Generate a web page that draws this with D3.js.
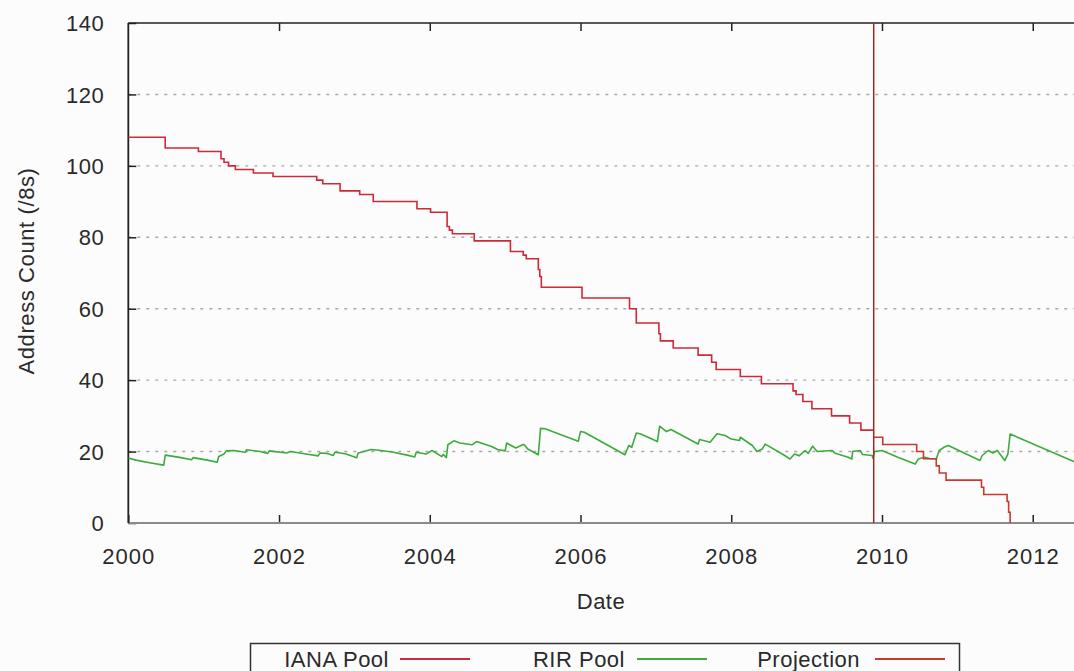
<!DOCTYPE html>
<html>
<head>
<meta charset="utf-8">
<script src="https://cdn.jsdelivr.net/npm/d3@7"></script>
<style>
  html, body { margin: 0; padding: 0; background: #fcfcfc; }
  svg { display: block; }
  text { font-family: "Liberation Sans", Arial, sans-serif; fill: #2a2a2a; }
</style>
</head>
<body>
<svg id="chart" width="1074" height="671"></svg>
<script>
// ---------- data ----------
const xTickYears = [2000, 2002, 2004, 2006, 2008, 2010, 2012];
const xTickLabels = ["2000", "2002", "2004", "2006", "2008", "2010", "2012"];
const yTicks = [0, 20, 40, 60, 80, 100, 120, 140];
const gridValues = [20, 40, 60, 80, 100, 120];

// IANA pool (step function, value holds from the given date)
const ianaDates = [2000.00, 2000.49, 2000.93, 2001.23, 2001.27, 2001.33, 2001.42, 2001.66, 2001.92,
  2002.50, 2002.58, 2002.81, 2003.07, 2003.25, 2003.83, 2004.01, 2004.23, 2004.26, 2004.30,
  2004.59, 2005.07, 2005.24, 2005.28, 2005.44, 2005.46, 2005.48, 2006.02, 2006.65, 2006.74,
  2007.04, 2007.06, 2007.23, 2007.56, 2007.74, 2007.80, 2008.12, 2008.40, 2008.82, 2008.86,
  2008.95, 2009.07, 2009.33, 2009.57, 2009.72, 2009.89];
const ianaValues = [108, 105, 104, 102, 101, 100, 99, 98, 97,
  96, 95, 93, 92, 90, 88, 87, 83, 82, 81,
  79, 76, 75, 74, 71, 69, 66, 63, 60, 56,
  53, 51, 49, 47, 45, 43, 41, 39, 37, 36,
  34, 32, 30, 28, 26, 26];

// Projection of IANA pool (step function)
const projDates = [2009.89, 2010.01, 2010.46, 2010.55, 2010.72, 2010.76, 2010.85, 2011.32, 2011.35, 2011.66, 2011.68, 2011.70];
const projValues = [24, 22, 20, 18, 16, 14, 12, 10, 8, 6, 3, 0];

// date of the projection marker
const projectionDate = 2009.89;

// RIR pool
const rirDates = [2000.00, 2000.10, 2000.30, 2000.47, 2000.49, 2000.70, 2000.84, 2000.86, 2001.05, 2001.18,
  2001.20, 2001.27, 2001.30, 2001.40, 2001.55, 2001.57, 2001.75, 2001.85, 2001.87, 2002.10,
  2002.15, 2002.40, 2002.52, 2002.54, 2002.63, 2002.72, 2002.74, 2002.88, 2003.03, 2003.05,
  2003.22, 2003.35, 2003.50, 2003.70, 2003.80, 2003.82, 2003.95, 2004.03, 2004.16, 2004.18,
  2004.22, 2004.24, 2004.32, 2004.40, 2004.56, 2004.62, 2004.82, 2004.90, 2005.00, 2005.02,
  2005.14, 2005.24, 2005.26, 2005.30, 2005.44, 2005.47, 2005.53, 2005.97, 2006.00, 2006.05,
  2006.59, 2006.64, 2006.68, 2006.74, 2006.80, 2007.02, 2007.05, 2007.14, 2007.20, 2007.56,
  2007.58, 2007.72, 2007.81, 2007.92, 2008.00, 2008.11, 2008.12, 2008.28, 2008.34, 2008.41,
  2008.45, 2008.71, 2008.78, 2008.84, 2008.90, 2008.98, 2009.02, 2009.08, 2009.14, 2009.34,
  2009.38, 2009.55, 2009.60, 2009.61, 2009.71, 2009.74, 2009.87, 2009.88, 2009.90, 2010.00,
  2010.21, 2010.44, 2010.48, 2010.57, 2010.64, 2010.72, 2010.76, 2010.82, 2010.88, 2011.30,
  2011.33, 2011.41, 2011.47, 2011.53, 2011.63, 2011.67, 2011.70, 2012.60];
const rirValues = [18.2, 17.6, 16.8, 16.2, 19.0, 18.3, 17.7, 18.3, 17.6, 17.0,
  18.6, 19.3, 20.2, 20.3, 19.8, 20.5, 20.0, 19.5, 20.2, 19.6,
  20.0, 19.2, 18.8, 19.6, 19.5, 18.9, 19.8, 19.4, 18.3, 19.6,
  20.6, 20.3, 19.9, 19.0, 18.5, 19.8, 19.3, 20.3, 18.6, 19.2,
  18.3, 21.9, 23.0, 22.4, 21.9, 22.8, 21.4, 20.6, 20.2, 22.4,
  21.0, 22.0, 21.8, 20.7, 19.1, 26.5, 26.4, 22.9, 25.6, 25.4,
  19.1, 21.7, 21.2, 25.2, 24.9, 22.8, 27.1, 25.6, 26.2, 22.1,
  23.4, 22.6, 25.0, 24.5, 23.5, 23.1, 24.0, 21.7, 20.0, 20.7,
  22.1, 18.9, 17.9, 19.3, 18.8, 20.3, 19.5, 21.5, 20.0, 20.3,
  19.5, 18.4, 17.9, 20.0, 20.3, 19.2, 18.9, 18.1, 20.0, 20.3,
  18.4, 16.5, 17.9, 18.4, 18.0, 18.0, 20.3, 21.2, 21.7, 17.5,
  18.9, 20.3, 19.6, 20.3, 17.5, 19.3, 24.9, 16.7];

const legendItems = ["IANA Pool", "RIR Pool", "Projection"];

// ---------- layout ----------
const svg = d3.select("#chart");
const W = 1074;
const mLeft = 128.3, mTop = 23, mBottom = 523;
const pxPerYear = 75.37;
const FONT = "22px";

const x = d3.scaleLinear().domain([2000, 2013]).range([mLeft, mLeft + 13 * pxPerYear]);
const y = d3.scaleLinear().domain([0, 140]).range([mBottom, mTop]);

const colIana = "#cc2a3a";
const colProj = "#c83a30";
const colRir = "#3daa3d";
const colVline = "#a02a2a";

svg.append("defs").append("clipPath").attr("id", "clip")
  .append("rect").attr("x", mLeft).attr("y", mTop - 2).attr("width", W - mLeft).attr("height", mBottom - mTop + 4);

// grid
svg.append("g").selectAll("line").data(gridValues).join("line")
  .attr("x1", mLeft).attr("x2", W)
  .attr("y1", d => y(d)).attr("y2", d => y(d))
  .attr("stroke", "#a8a8a8").attr("stroke-width", 1.4)
  .attr("stroke-dasharray", "3,6");

// y axis (ticks inward)
const yAxis = d3.axisLeft(y).tickValues(yTicks).tickSize(-8).tickPadding(0).tickFormat(d3.format("d"));
const gy = svg.append("g").attr("transform", `translate(${mLeft},0)`).call(yAxis);
gy.select(".domain").remove();
gy.selectAll(".tick line").attr("stroke", "#222").attr("stroke-width", 1.5);
gy.selectAll(".tick text")
  .attr("x", -24).attr("dy", "0.35em")
  .style("font-size", FONT).style("letter-spacing", "0.5px")
  .style("font-family", "'Liberation Sans', Arial, sans-serif").attr("fill", "#2a2a2a");

// x axis bottom (ticks inward)
const xAxis = d3.axisBottom(x).tickValues(xTickYears).tickSize(-8)
  .tickFormat((d, i) => xTickLabels[i]);
const gx = svg.append("g").attr("transform", `translate(0,${mBottom})`).call(xAxis);
gx.select(".domain").remove();
gx.selectAll(".tick line").attr("stroke", "#222").attr("stroke-width", 1.5);
gx.selectAll(".tick text")
  .attr("y", 41).attr("dy", 0)
  .style("font-size", FONT).style("letter-spacing", "1px")
  .style("font-family", "'Liberation Sans', Arial, sans-serif").attr("fill", "#2a2a2a");

// x axis top mirror ticks
const xTopAxis = d3.axisTop(x).tickValues(xTickYears.slice(1)).tickSize(-8).tickFormat("");
const gxt = svg.append("g").attr("transform", `translate(0,${mTop})`).call(xTopAxis);
gxt.select(".domain").remove();
gxt.selectAll(".tick line").attr("stroke", "#222").attr("stroke-width", 1.5);

// borders
svg.append("line").attr("x1", mLeft).attr("x2", W).attr("y1", mTop).attr("y2", mTop)
  .attr("stroke", "#222").attr("stroke-width", 1.5);
svg.append("line").attr("x1", mLeft).attr("x2", W).attr("y1", mBottom).attr("y2", mBottom)
  .attr("stroke", "#8a8a8a").attr("stroke-width", 2);
svg.append("line").attr("x1", mLeft).attr("x2", mLeft).attr("y1", mTop).attr("y2", mBottom)
  .attr("stroke", "#222").attr("stroke-width", 1.8);

// data lines
const plot = svg.append("g").attr("clip-path", "url(#clip)");
const stepLine = d3.line().x(d => x(d[0])).y(d => y(d[1])).curve(d3.curveStepAfter);
const linLine = d3.line().x(d => x(d[0])).y(d => y(d[1]));

const rirData = rirDates.map((d, i) => [d, rirValues[i]]);
const ianaData = ianaDates.map((d, i) => [d, ianaValues[i]]);
const projData = projDates.map((d, i) => [d, projValues[i]]);

plot.append("path").datum(rirData).attr("d", linLine)
  .attr("fill", "none").attr("stroke", colRir).attr("stroke-width", 1.6).attr("stroke-linejoin", "round");
plot.append("path").datum(ianaData).attr("d", stepLine)
  .attr("fill", "none").attr("stroke", colIana).attr("stroke-width", 1.6);
plot.append("path").datum(projData).attr("d", stepLine)
  .attr("fill", "none").attr("stroke", colProj).attr("stroke-width", 1.6);

// projection marker
plot.append("line")
  .attr("x1", x(projectionDate)).attr("x2", x(projectionDate))
  .attr("y1", mTop).attr("y2", mBottom)
  .attr("stroke", colVline).attr("stroke-width", 1.5);

// axis titles
svg.append("text").attr("x", 601).attr("y", 609).attr("text-anchor", "middle")
  .style("font-size", FONT).style("letter-spacing", "0.5px").text("Date");
svg.append("text").attr("transform", "translate(34,271) rotate(-90)").attr("text-anchor", "middle")
  .style("font-size", FONT).style("letter-spacing", "0.6px").text("Address Count (/8s)");

// legend
const lg = svg.append("g");
lg.append("rect").attr("x", 250.5).attr("y", 643.5).attr("width", 709).attr("height", 40)
  .attr("fill", "none").attr("stroke", "#333").attr("stroke-width", 1.5);
const legendCols = [colIana, colRir, colProj];
const legendTextEnd = [389, 625, 860];
const legendLineStart = [400, 637, 875];
legendItems.forEach((name, i) => {
  lg.append("text").attr("x", legendTextEnd[i]).attr("y", 667).attr("text-anchor", "end")
    .style("font-size", FONT).style("letter-spacing", "0.5px").text(name);
  lg.append("line").attr("x1", legendLineStart[i]).attr("x2", legendLineStart[i] + 70)
    .attr("y1", 659).attr("y2", 659).attr("stroke", legendCols[i]).attr("stroke-width", 2);
});
</script>
</body>
</html>
